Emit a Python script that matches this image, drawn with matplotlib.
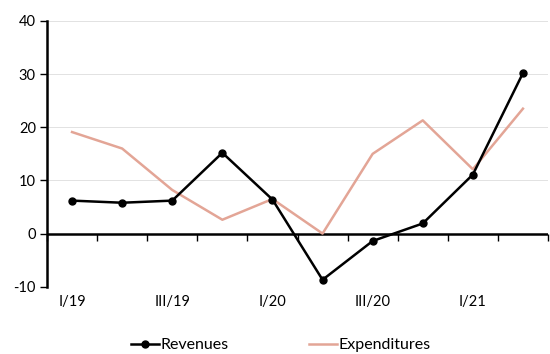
import matplotlib
matplotlib.use("Agg")
import matplotlib.pyplot as plt
import numpy as np

plt.rcParams['font.family'] = ['Lato', 'DejaVu Sans']
plt.rcParams['axes.unicode_minus'] = False

quarters = ["I/19", "II/19", "III/19", "IV/19", "I/20", "II/20", "III/20", "IV/20", "I/21", "II/21"]
revenues = [6.2, 5.8, 6.2, 15.2, 6.4, -8.7, -1.4, 1.9, 11.1, 30.2]
expenditures = [19.1, 16.0, 8.2, 2.6, 6.5, 0.0, 15.0, 21.3, 12.1, 23.5]
yticks = [-10, 0, 10, 20, 30, 40]

fig = plt.figure(figsize=(5.5, 3.54), dpi=100)
ax = fig.add_axes([47/550, 1 - 286.7/354, (548 - 47)/550, (286.7 - 21)/354])

x = np.arange(len(quarters))

# light horizontal guides at the non-zero ticks
for v in yticks:
    if v != 0:
        ax.axhline(v, color="#e2e2e2", lw=0.7, zorder=0)
ax.axhline(0, color="black", lw=1.8, zorder=2)

ax.plot(x, revenues, color="black", lw=1.8, marker="o", ms=5, label="Revenues", zorder=4)
ax.plot(x, expenditures, color="#E3A596", lw=1.8, label="Expenditures", zorder=3)

ax.set_xlim(-0.5, len(quarters) - 0.5)
ax.set_ylim(-10, 40)
ax.set_yticks(yticks)

for s in ["top", "right", "bottom"]:
    ax.spines[s].set_visible(False)
ax.spines["left"].set_linewidth(1.8)
ax.tick_params(axis="y", length=5, width=1, labelsize=10.5, pad=3)

# category labels along the bottom, every other quarter
ax.set_xticks(x[::2])
ax.set_xticklabels(quarters[::2])
ax.tick_params(axis="x", length=0, labelsize=10.5, pad=6)

# tick marks on the zero line at quarter boundaries
zero_frac = (0 - (-10)) / 50
sec = ax.secondary_xaxis(zero_frac)
sec.set_xticks(np.arange(len(quarters) + 1) - 0.5)
sec.set_xticklabels([])
sec.spines["bottom"].set_visible(False)
sec.tick_params(axis="x", length=5, width=1, direction="out")

fig.legend(loc="center", bbox_to_anchor=(281/550, 1 - 345/354), ncol=2, frameon=False,
           fontsize=11.5, handlelength=1.75, columnspacing=5.0, handletextpad=0.1,
           borderaxespad=0)

fig.savefig("out.png", dpi=100)
